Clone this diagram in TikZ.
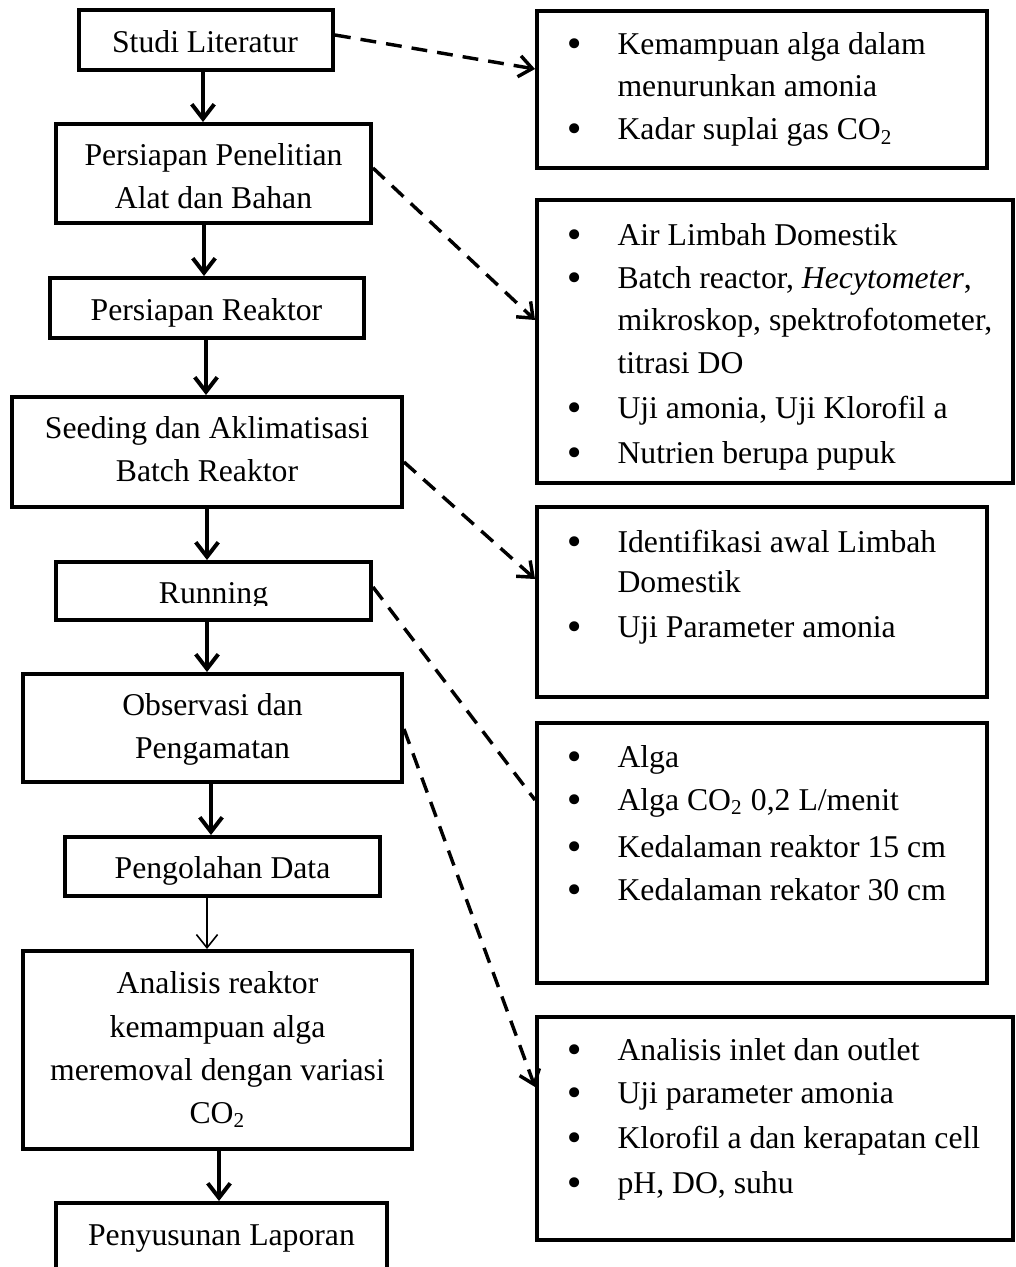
\documentclass[tikz,border=0pt]{standalone}
\usepackage{fontspec}
\setmainfont{Liberation Serif}
\newfontfamily\bulfont{DejaVu Sans}
\usetikzlibrary{arrows.meta,fit}
\begin{document}
\begin{tikzpicture}[x=0.3785pt,y=-0.3785pt,
  box/.style={draw,line width=1.5pt,fill=white,inner sep=0pt},
  txt/.style={anchor=base,inner sep=0pt,font=\fontsize{12}{14}\selectfont},
  ltxt/.style={anchor=base west,inner sep=0pt,font=\fontsize{12}{14}\selectfont},
  bul/.style={anchor=base,inner sep=0pt,font=\bulfont\fontsize{13}{13}\selectfont},
  flow/.style={line width=1.5pt,-{Straight Barb[length=5.5pt,width=8.5pt]}},
  thinflow/.style={line width=0.6pt,-{Straight Barb[length=5pt,width=8pt]}},
  link/.style={line width=1.3pt,dash pattern=on 6pt off 3.8pt,-{Straight Barb[length=5pt,width=8pt]}},
  linknohead/.style={line width=1.3pt,dash pattern=on 6pt off 3.8pt},
]
\useasboundingbox (0,0) rectangle (1016,1267);

% left boxes
\node[box,fit={(79,10)(333,70)}] (n1) {};
\node[box,fit={(56,124)(371,223)}] (n2) {};
\node[box,fit={(50,278)(364,338)}] (n3) {};
\node[box,fit={(12,397)(402,507)}] (n4) {};
\node[box,fit={(56,562)(371,620)}] (n5) {};
\node[box,fit={(23,674)(402,782)}] (n6) {};
\node[box,fit={(65,837)(380,896)}] (n7) {};
\node[box,fit={(23,951)(412,1149)}] (n8) {};
\node[box,fit={(56,1203)(387,1300)}] (n9) {};

% right boxes
\node[box,fit={(537,11)(987,168)}] (r1) {};
\node[box,fit={(537,200)(1013,483)}] (r2) {};
\node[box,fit={(537,507)(987,697)}] (r3) {};
\node[box,fit={(537,723)(987,983)}] (r4) {};
\node[box,fit={(537,1017)(1013,1240)}] (r5) {};

% left texts
\node[txt] (t1) at (205,53) {Studi Literatur};
\node[txt] (t2a) at (213.5,166) {Persiapan Penelitian};
\node[txt] (t2b) at (213.5,208) {Alat dan Bahan};
\node[txt] (t3) at (206.5,320) {Persiapan Reaktor};
\node[txt] (t4a) at (207,438) {Seeding dan Aklimatisasi};
\node[txt] (t4b) at (207,481) {Batch Reaktor};
\begin{scope}
\clip (0,0) rectangle (1016,605);
\node[txt] (t5) at (213.5,603) {Running};
\end{scope}
\node[txt] (t6a) at (212.5,715) {Observasi dan};
\node[txt] (t6b) at (212.5,758) {Pengamatan};
\node[txt] (t7) at (222.5,878) {Pengolahan Data};
\node[txt] (t8a) at (217.5,993.5) {Analisis reaktor};
\node[txt] (t8b) at (217.5,1037) {kemampuan alga};
\node[txt] (t8c) at (217.5,1080) {meremoval dengan variasi};
\node[txt] (t8d) at (217.5,1123) {CO\textsubscript{2}};
\node[txt] (t9) at (221.5,1245) {Penyusunan Laporan};

% right texts
\node[bul] (r1b1) at (575,57) {•};
\node[ltxt] (r1l1) at (617,55) {Kemampuan alga dalam};
\node[ltxt] (r1l2) at (617,97) {menurunkan amonia};
\node[bul] (r1b2) at (575,142) {•};
\node[ltxt] (r1l3) at (617,140) {Kadar suplai gas CO\textsubscript{2}};

\node[bul] (r2b1) at (575,247) {•};
\node[ltxt] (r2l1) at (617,245) {Air Limbah Domestik};
\node[bul] (r2b2) at (575,290) {•};
\node[ltxt] (r2l2) at (617,288) {Batch reactor, \textit{Hecytometer},};
\node[ltxt] (r2l3) at (617,330) {mikroskop, spektrofotometer,};
\node[ltxt] (r2l4) at (617,373) {titrasi DO};
\node[bul] (r2b3) at (575,420) {•};
\node[ltxt] (r2l5) at (617,418) {Uji amonia, Uji Klorofil a};
\node[bul] (r2b4) at (575,465) {•};
\node[ltxt] (r2l6) at (617,463) {Nutrien berupa pupuk};

\node[bul] (r3b1) at (575,554) {•};
\node[ltxt] (r3l1) at (617,552) {Identifikasi awal Limbah};
\node[ltxt] (r3l2) at (617,592) {Domestik};
\node[bul] (r3b2) at (575,639) {•};
\node[ltxt] (r3l3) at (617,637) {Uji Parameter amonia};

\node[bul] (r4b1) at (575,769) {•};
\node[ltxt] (r4l1) at (617,767) {Alga};
\node[bul] (r4b2) at (575,812) {•};
\node[ltxt] (r4l2) at (617,810) {Alga CO\textsubscript{2} 0,2 L/menit};
\node[bul] (r4b3) at (575,859) {•};
\node[ltxt] (r4l3) at (617,857) {Kedalaman reaktor 15 cm};
\node[bul] (r4b4) at (575,902) {•};
\node[ltxt] (r4l4) at (617,900) {Kedalaman rekator 30 cm};

\node[bul] (r5b1) at (575,1062) {•};
\node[ltxt] (r5l1) at (617,1060) {Analisis inlet dan outlet};
\node[bul] (r5b2) at (575,1105) {•};
\node[ltxt] (r5l2) at (617,1103) {Uji parameter amonia};
\node[bul] (r5b3) at (575,1150) {•};
\node[ltxt] (r5l3) at (617,1148) {Klorofil a dan kerapatan cell};
\node[bul] (r5b4) at (575,1195) {•};
\node[ltxt] (r5l4) at (617,1193) {pH, DO, suhu};

% flow arrows
\draw[flow] (n1.south -| 203,0) -- (n2.north -| 203,0);
\draw[flow] (n2.south -| 204,0) -- (n3.north -| 204,0);
\draw[flow] (n3.south -| 206,0) -- (n4.north -| 206,0);
\draw[flow] (n4.south -| 207,0) -- (n5.north -| 207,0);
\draw[flow] (n5.south -| 207,0) -- (n6.north -| 207,0);
\draw[flow] (n6.south -| 211,0) -- (n7.north -| 211,0);
\draw[thinflow] (n7.south -| 207,0) -- (n8.north -| 207,0);
\draw[flow] (n8.south -| 219,0) -- (n9.north -| 219,0);

% dashed links
\draw[link] (n1.east |- 0,35) -- (r1.west |- 0,69);
\draw[link] (n2.east |- 0,168) -- (r2.west |- 0,320);
\draw[link] (n4.east |- 0,462) -- (r3.west |- 0,579);
\draw[linknohead] (n5.east |- 0,587) -- (r4.west |- 0,800);
\draw[link] (n6.east |- 0,729) -- (r5.west |- 0,1087);
\end{tikzpicture}
\end{document}
